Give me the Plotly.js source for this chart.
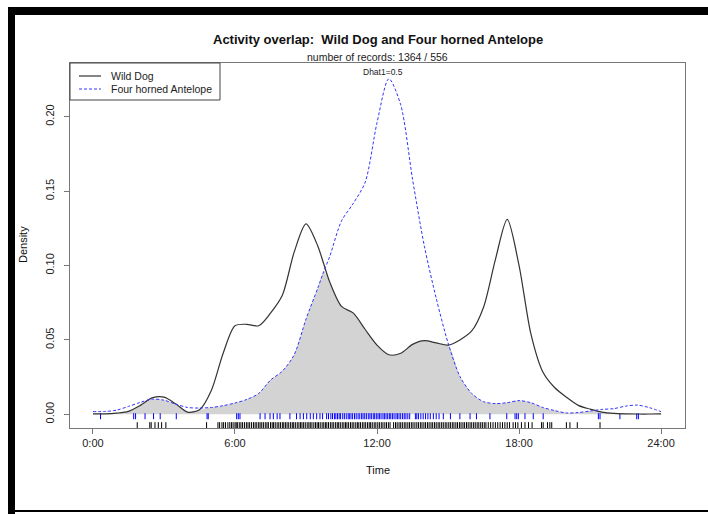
<!DOCTYPE html>
<html>
<head>
<meta charset="utf-8">
<script src="https://cdn.plot.ly/plotly-3.0.1.min.js"></script>
<style>html,body{margin:0;padding:0;background:#fff;}#chart{width:708px;height:514px;}</style>
</head>
<body>
<div id="chart"></div>
<script>
// Time of day (hours) grid for the kernel density curves
const hours = [0,0.5,1,1.5,2,2.5,3,3.5,4,4.5,5,5.5,6,6.5,7,7.5,8,8.5,9,9.5,9.75,10,10.5,11,11.5,12,12.5,13,13.5,14,14.5,15,15.5,16,16.5,17,17.5,18,18.5,19,19.5,20,20.5,21,21.5,22,22.5,23,23.5,24];

// Wild Dog density
const wildDog = [0.0003,0.0003,0.0008,0.002,0.006,0.011,0.0115,0.007,0.0015,0.003,0.016,0.041,0.0595,0.0605,0.0595,0.068,0.080,0.109,0.128,0.113,0.101,0.089,0.0725,0.068,0.057,0.0465,0.040,0.041,0.047,0.0495,0.048,0.0465,0.050,0.056,0.072,0.104,0.131,0.100,0.054,0.0286,0.018,0.0115,0.006,0.0035,0.0015,0.0006,0.0003,0.0002,0.0002,0.0003];

// Four horned Antelope density
const antelope = [0.0018,0.0019,0.0028,0.0053,0.008,0.0102,0.0095,0.0068,0.0046,0.0042,0.0046,0.0058,0.0076,0.0100,0.014,0.023,0.029,0.040,0.064,0.085,0.096,0.106,0.130,0.1418,0.156,0.196,0.2255,0.208,0.158,0.113,0.078,0.048,0.0255,0.014,0.0085,0.0072,0.0078,0.0092,0.0078,0.0046,0.0025,0.0009,0.0012,0.0022,0.0033,0.0038,0.0055,0.0062,0.0045,0.0018];

// Rug: record times (hours), read approximately
const antelopeTimes = [0.32,1.72,1.8,2.2,2.56,2.84,3.52,4.82,4.87,6.07,6.14,6.21,7.06,7.27,7.48,7.62,7.78,7.9,8.32,8.6,8.75,8.89,9.03,9.18,9.31,9.45,9.59,9.7,9.87,9.95,
10.05,10.12,10.2,10.26,10.33,10.4,10.46,10.55,10.62,10.7,10.78,10.83,10.9,10.97,11.05,11.12,11.2,11.27,11.35,11.41,11.48,11.55,11.63,11.7,11.76,11.84,11.9,11.97,12.04,12.1,12.17,12.25,12.31,12.38,12.45,12.52,12.58,12.65,12.72,12.8,12.86,12.93,13.0,13.08,13.15,13.22,13.3,13.38,13.62,13.68,13.75,13.85,13.95,14.05,14.15,14.25,14.38,14.5,14.62,14.8,
15.1,15.5,15.93,16.2,16.77,17.48,17.83,17.9,17.97,18.25,18.6,19.02,21.35,21.42,22.26,22.97,23.04];

const wildDogTimes = [1.87,2.4,2.46,2.62,2.76,2.9,3.08,4.8,
5.28,5.35,5.45,5.52,5.6,5.7,5.78,5.85,5.92,6.0,6.05,6.1,6.18,6.25,6.32,6.4,6.48,6.55,6.62,6.7,6.78,6.85,6.92,7.0,7.06,7.13,7.2,7.28,7.35,7.41,7.5,7.57,7.63,7.7,7.78,7.85,7.92,8.0,8.06,8.13,8.2,8.27,8.35,8.42,8.48,8.55,8.63,8.7,8.77,8.83,8.9,8.97,9.05,9.12,9.18,9.25,9.33,9.4,9.47,9.53,9.6,9.68,9.75,9.82,9.88,9.95,10.03,10.1,10.17,10.25,10.32,10.38,10.45,10.53,10.6,10.67,10.73,10.8,10.88,10.95,11.02,11.1,11.17,11.23,11.3,11.38,11.45,11.52,11.6,11.67,11.73,11.8,11.88,11.95,12.03,12.1,12.18,12.25,12.33,12.4,12.48,12.55,12.7,12.78,12.85,12.93,13.0,13.07,13.15,13.22,13.3,13.37,13.45,13.52,13.6,13.68,13.75,13.83,13.9,13.98,14.05,14.13,14.2,14.28,14.35,14.43,14.5,14.58,14.65,14.73,14.8,14.88,14.95,15.03,15.1,15.18,15.25,15.33,15.4,15.48,15.55,15.63,15.7,15.78,15.85,15.93,16.0,16.08,16.15,16.23,16.3,16.38,16.45,16.53,16.6,16.7,16.8,16.9,17.0,17.1,17.2,17.3,17.4,17.5,17.6,17.75,17.85,17.95,18.1,18.25,18.4,18.55,
18.95,19.02,19.2,19.3,19.38,20.0,20.15,20.46,21.42];

const xTickVals = [0,6,12,18,24];
const xTickText = ["0:00","6:00","12:00","18:00","24:00"];
const yTickVals = [0,0.05,0.10,0.15,0.20];
const yTickText = ["0.00","0.05","0.10","0.15","0.20"];
const legendNames = ["Wild Dog","Four horned Antelope"];

const overlap = wildDog.map((v,i)=>Math.min(v, antelope[i]));

const FONT = "Liberation Sans, Arial, sans-serif";
const WD_COLOR = '#333333', FA_COLOR = '#3333ff';

const traces = [
  {x: hours, y: overlap, type:'scatter', mode:'lines', fill:'tozeroy', fillcolor:'#d3d3d3',
   line:{width:0, shape:'spline', smoothing:0.8}, showlegend:false, hoverinfo:'skip'},
  {x: antelopeTimes, y: antelopeTimes.map(()=>-0.0013), type:'scatter', mode:'markers', showlegend:false,
   marker:{symbol:'line-ns-open', size:4.3, color:'#0000ff', line:{color:'#0000ff', width:1}}},
  {x: wildDogTimes, y: wildDogTimes.map(()=>-0.0073), type:'scatter', mode:'markers', showlegend:false,
   marker:{symbol:'line-ns-open', size:4.3, color:'#000000', line:{color:'#000000', width:1}}},
  {x: hours, y: wildDog, type:'scatter', mode:'lines', name:legendNames[0], showlegend:false,
   line:{color:WD_COLOR, width:1.2, shape:'spline', smoothing:0.8}},
  {x: hours, y: antelope, type:'scatter', mode:'lines', name:legendNames[1], showlegend:false,
   line:{color:FA_COLOR, width:1, dash:'3px,2px', shape:'spline', smoothing:0.8}}
];

// plot-area pixel box: x 70..685, y 63..428
const L=70, R=685, T=63, B=428;
const px = v => (v - L)/(R - L);
const py = v => (B - v)/(B - T);

const layout = {
  width:708, height:514,
  margin:{l:L, r:708-R, t:T, b:514-B, pad:0},
  paper_bgcolor:'#ffffff', plot_bgcolor:'#ffffff',
  font:{family:FONT, size:11, color:'#222'},
  showlegend:false,
  xaxis:{range:[-0.97,25.01], tickvals:xTickVals, ticktext:xTickText, ticks:'outside', ticklen:5,
         tickcolor:'#777', showline:true, linecolor:'#777', linewidth:1, mirror:true, showgrid:false, zeroline:false,
         tickfont:{family:FONT, size:11, color:'#222'}, fixedrange:true},
  yaxis:{range:[-0.0092,0.2361], tickvals:yTickVals, ticktext:yTickText, ticks:'outside', ticklen:5,
         tickcolor:'#777', showline:true, linecolor:'#777', linewidth:1, mirror:true, showgrid:false, zeroline:false,
         tickangle:-90, tickfont:{family:FONT, size:11, color:'#222'}, ticklabelstandoff:6, fixedrange:true},
  annotations:[
    {text:'<b>Activity overlap:  Wild Dog and Four horned Antelope</b>', xref:'paper', yref:'paper',
     x:px(377.5), y:py(40), xanchor:'center', yanchor:'middle', showarrow:false, font:{family:FONT, size:13, color:'#111'}},
    {text:'number of records: 1364 / 556', xref:'paper', yref:'paper',
     x:px(377.5), y:py(57), xanchor:'center', yanchor:'middle', showarrow:false, font:{family:FONT, size:10.5, color:'#222'}},
    {text:'Dhat1=0.5', xref:'paper', yref:'paper',
     x:px(383), y:py(72), xanchor:'center', yanchor:'middle', showarrow:false, font:{family:FONT, size:8.5, color:'#222'}},
    {text:'Time', xref:'paper', yref:'paper',
     x:px(377.5), y:py(470), xanchor:'center', yanchor:'middle', showarrow:false, font:{family:FONT, size:11, color:'#111'}},
    {text:'Density', xref:'paper', yref:'paper', textangle:-90,
     x:px(23), y:py(245), xanchor:'center', yanchor:'middle', showarrow:false, font:{family:FONT, size:11, color:'#111'}},
    {text:legendNames[0], xref:'paper', yref:'paper',
     x:px(109), y:py(76), xanchor:'left', yanchor:'middle', showarrow:false, font:{family:FONT, size:10.5, color:'#222'}},
    {text:legendNames[1], xref:'paper', yref:'paper',
     x:px(109), y:py(89), xanchor:'left', yanchor:'middle', showarrow:false, font:{family:FONT, size:10.5, color:'#222'}}
  ],
  shapes:[
    {type:'rect', xref:'paper', yref:'paper', x0:px(70), x1:px(220), y0:py(100), y1:py(63), fillcolor:'#fff', line:{color:'#444', width:1}, layer:'above'},
    {type:'line', xref:'paper', yref:'paper', x0:px(79), x1:px(101), y0:py(76), y1:py(76), line:{color:WD_COLOR, width:1.2}, layer:'above'},
    {type:'line', xref:'paper', yref:'paper', x0:px(79), x1:px(101), y0:py(89), y1:py(89), line:{color:FA_COLOR, width:1, dash:'3px,2px'}, layer:'above'},
    {type:'rect', xref:'paper', yref:'paper', x0:px(8), x1:px(708), y0:py(15), y1:py(7), fillcolor:'#000', line:{width:0}, layer:'above'},
    {type:'rect', xref:'paper', yref:'paper', x0:px(8), x1:px(15), y0:py(514), y1:py(7), fillcolor:'#000', line:{width:0}, layer:'above'},
    {type:'rect', xref:'paper', yref:'paper', x0:px(8), x1:px(708), y0:py(512), y1:py(510), fillcolor:'#000', line:{width:0}, layer:'above'}
  ]
};

Plotly.newPlot('chart', traces, layout, {staticPlot:true, displayModeBar:false});
</script>
</body>
</html>
